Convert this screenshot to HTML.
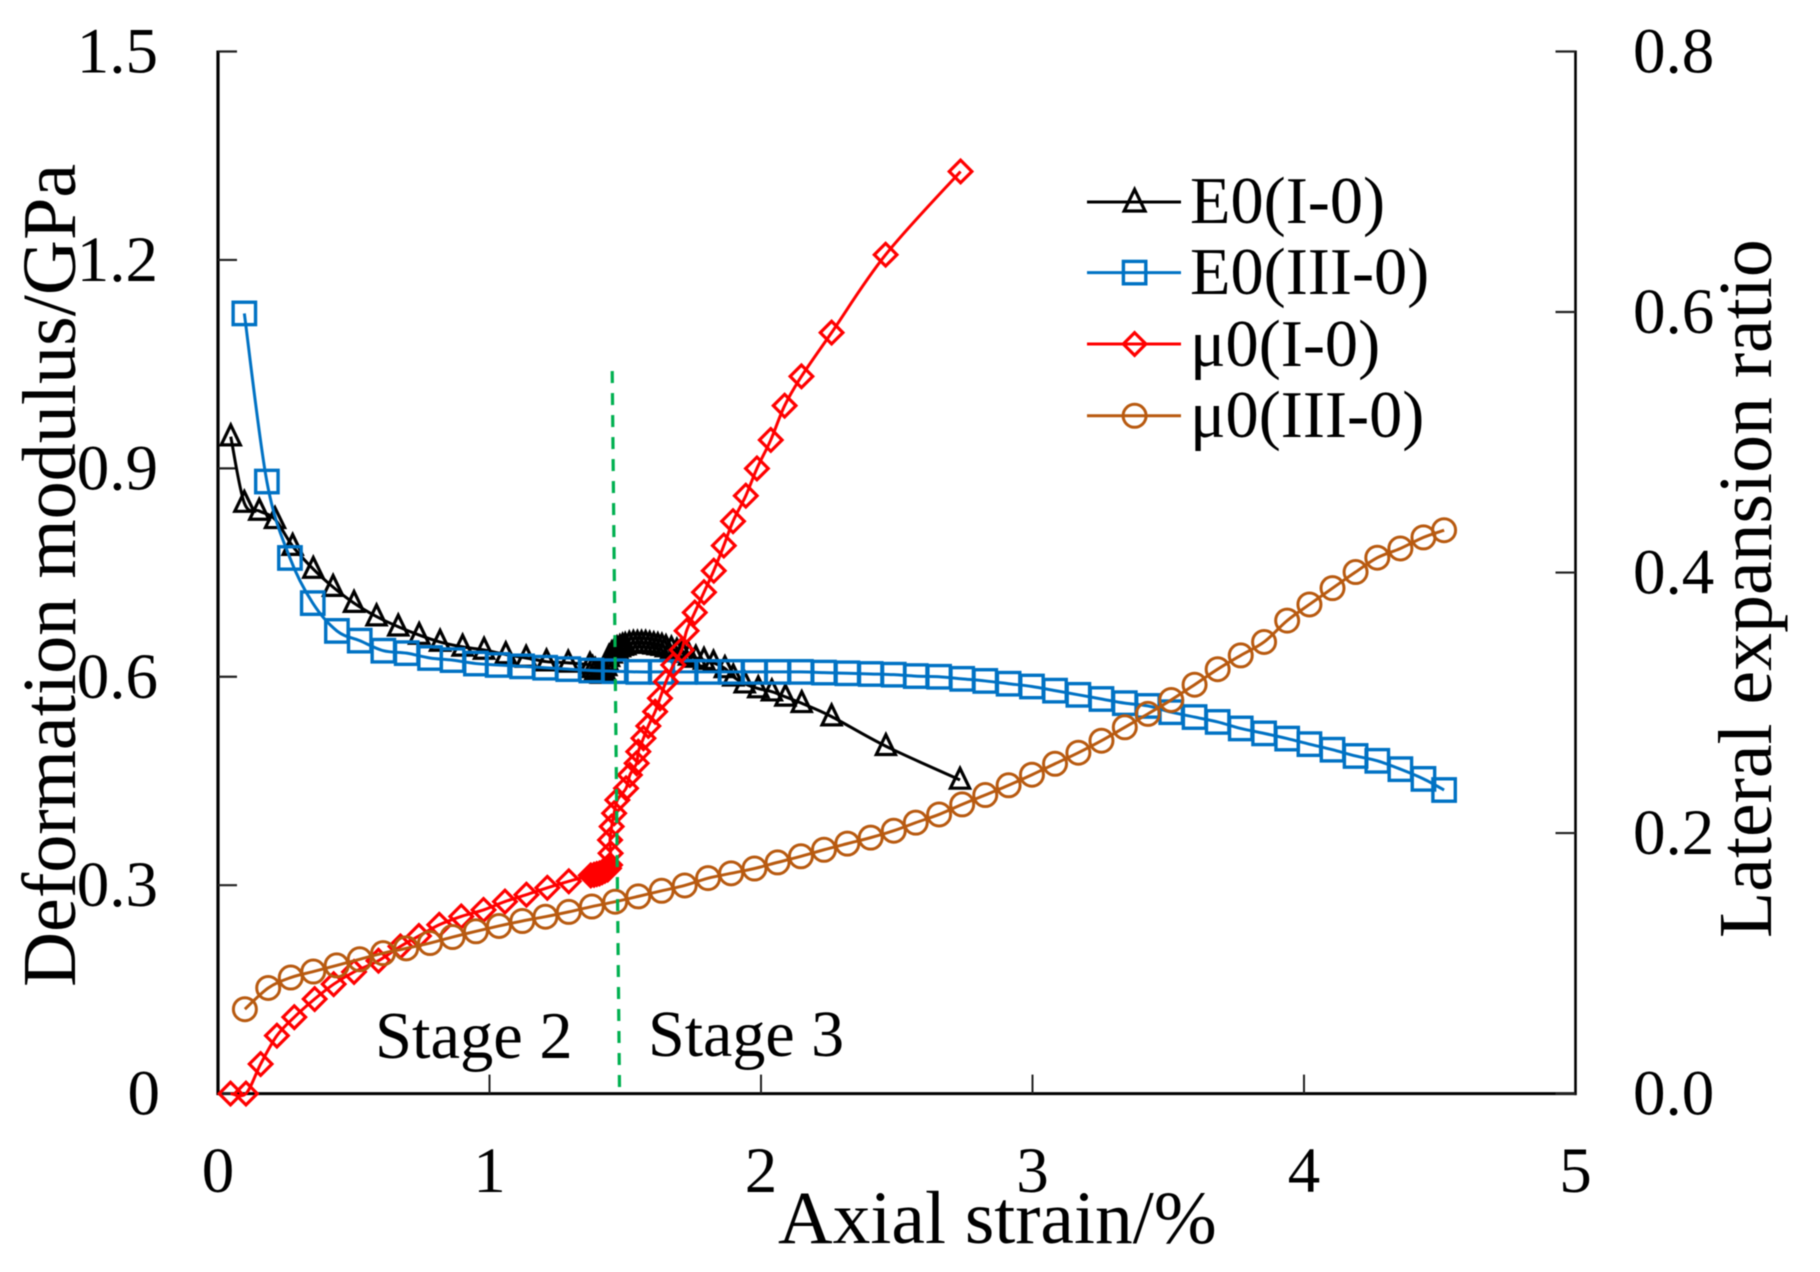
<!DOCTYPE html>
<html lang="en">
<head>
<meta charset="utf-8">
<title>Deformation modulus and lateral expansion ratio vs axial strain</title>
<style>
html,body{margin:0;padding:0;background:#fff;width:1820px;height:1272px;overflow:hidden}
svg{display:block;filter:blur(0.5px)}
text{font-family:"Liberation Serif","Times New Roman",serif;fill:#000}
</style>
</head>
<body>
<svg id="chart" xmlns="http://www.w3.org/2000/svg" width="1820" height="1272" viewBox="0 0 1820 1272">
  <rect x="0" y="0" width="1820" height="1272" fill="#ffffff"/>
  <g id="axes"></g>
  <g id="series"></g>
  <g id="stage-divider-layer"></g>
  <text x="778" y="1243" font-size="75.6">Axial strain/%</text>
  <text transform="translate(75 987) rotate(-90)" font-size="76.2">Deformation modulus/GPa</text>
  <text transform="translate(1771 938) rotate(-90)" font-size="75.8">Lateral expansion ratio</text>
  <text x="375" y="1058" font-size="66.5">Stage 2</text>
  <text x="648" y="1056" font-size="66">Stage 3</text>
  <g id="legend"></g>
</svg>
<script>
// ---------- chart data ----------
const xTicks = [0, 1, 2, 3, 4, 5];
const leftTicks = [0, 0.3, 0.6, 0.9, 1.2, 1.5];
const leftTickLabels = ['0', '0.3', '0.6', '0.9', '1.2', '1.5'];
const rightTicks = [0, 0.2, 0.4, 0.6, 0.8];
const rightTickLabels = ['0.0', '0.2', '0.4', '0.6', '0.8'];
const stageBoundaryStrain = [1.452, 1.479];
const stageBoundaryModulus = [1.04, 0];

const e0I0Strain = [0.047,0.097,0.152,0.21,0.275,0.351,0.424,0.501,0.584,0.664,0.741,0.818,0.901,0.98,1.06,1.135,1.21,1.29,1.37,1.38,1.39,1.40,1.41,1.415,1.42,1.425,1.43,1.435,1.44,1.45,1.46,1.47,1.48,1.49,1.50,1.515,1.53,1.545,1.56,1.575,1.59,1.605,1.62,1.635,1.65,1.67,1.69,1.71,1.735,1.76,1.79,1.825,1.867,1.898,1.94,1.99,2.04,2.09,2.15,2.26,2.46,2.733];
const e0I0Modulus = [0.9456,0.85,0.8386,0.8266,0.788,0.755,0.729,0.706,0.6866,0.672,0.66,0.65,0.643,0.6385,0.632,0.627,0.6217,0.62,0.617,0.612,0.609,0.606,0.604,0.604,0.605,0.608,0.615,0.622,0.628,0.633,0.637,0.64,0.642,0.644,0.645,0.647,0.648,0.648,0.648,0.648,0.647,0.646,0.645,0.644,0.642,0.64,0.637,0.634,0.63,0.627,0.624,0.62,0.612,0.60,0.59,0.583,0.5785,0.571,0.5618,0.5426,0.50,0.4515];

const e0III0Strain = [0.097,0.18,0.265,0.349,0.438,0.522,0.609,0.695,0.781,0.864,0.95,1.03,1.12,1.205,1.29,1.375,1.46,1.548,1.634,1.719,1.805,1.89,1.976,2.061,2.147,2.232,2.318,2.404,2.489,2.57,2.656,2.741,2.826,2.912,2.998,3.083,3.169,3.254,3.34,3.425,3.511,3.597,3.682,3.767,3.853,3.938,4.02,4.105,4.19,4.27,4.355,4.44,4.516];
const e0III0Modulus = [1.123,0.881,0.771,0.706,0.666,0.652,0.6375,0.634,0.627,0.624,0.619,0.617,0.615,0.613,0.611,0.609,0.608,0.607,0.607,0.607,0.607,0.607,0.607,0.607,0.607,0.606,0.605,0.604,0.603,0.601,0.6,0.597,0.594,0.59,0.586,0.58,0.574,0.568,0.562,0.558,0.549,0.542,0.535,0.5256,0.5185,0.511,0.503,0.495,0.486,0.479,0.467,0.453,0.437];

const muI0Strain = [0.046,0.103,0.157,0.217,0.281,0.356,0.426,0.501,0.591,0.672,0.74,0.815,0.896,0.978,1.057,1.136,1.213,1.292,1.373,1.385,1.395,1.405,1.415,1.425,1.435,1.44,1.444,1.446,1.444,1.45,1.459,1.471,1.503,1.517,1.542,1.548,1.567,1.585,1.61,1.628,1.65,1.677,1.708,1.726,1.756,1.79,1.826,1.863,1.897,1.944,1.985,2.036,2.087,2.149,2.26,2.459,2.735];
const muI0Ratio = [0,0,0.0227,0.0445,0.0587,0.0726,0.084,0.0934,0.102,0.113,0.121,0.1296,0.136,0.141,0.1474,0.1527,0.158,0.163,0.1675,0.168,0.1685,0.169,0.170,0.171,0.172,0.173,0.1755,0.1845,0.1947,0.205,0.2152,0.2254,0.2344,0.2446,0.2536,0.2625,0.2728,0.2822,0.2932,0.3035,0.3162,0.329,0.3406,0.3553,0.3693,0.3849,0.4014,0.4207,0.4394,0.459,0.4799,0.5018,0.5281,0.5506,0.5842,0.644,0.7079];

const muIII0Strain = [0.099,0.185,0.268,0.351,0.437,0.522,0.608,0.693,0.781,0.864,0.95,1.035,1.121,1.206,1.292,1.377,1.463,1.548,1.634,1.719,1.805,1.89,1.976,2.061,2.147,2.232,2.318,2.404,2.489,2.57,2.656,2.741,2.826,2.912,2.998,3.083,3.169,3.254,3.34,3.425,3.511,3.597,3.682,3.767,3.853,3.938,4.02,4.105,4.19,4.27,4.355,4.44,4.516];
const muIII0Ratio = [0.0648,0.0811,0.0891,0.0937,0.0984,0.1031,0.1078,0.1115,0.1156,0.1202,0.1246,0.1287,0.1325,0.1358,0.1395,0.1436,0.1473,0.1514,0.1557,0.1598,0.1654,0.1691,0.1728,0.1775,0.1822,0.1872,0.1919,0.1965,0.2018,0.208,0.2143,0.222,0.2292,0.2367,0.2448,0.2532,0.2617,0.2709,0.2812,0.2915,0.3022,0.3139,0.3258,0.3364,0.3467,0.3631,0.3755,0.388,0.4004,0.4114,0.4185,0.427,0.4325];

// ---------- plot geometry and axis functions ----------
const plot = { left: 218, right: 1575.5, top: 51.5, bottom: 1093.6 };
const xDomainMax = 5, leftDomainMax = 1.5, rightDomainMax = 0.8;
function xScale(v) { return plot.left + (plot.right - plot.left) * v / xDomainMax; }
function yLeft(v) { return plot.bottom - (plot.bottom - plot.top) * v / leftDomainMax; }
function yRight(v) { return plot.bottom - (plot.bottom - plot.top) * v / rightDomainMax; }

const NS = 'http://www.w3.org/2000/svg';
function make(tag, attrs, parent) {
  const el = document.createElementNS(NS, tag);
  for (const k in attrs) el.setAttribute(k, attrs[k]);
  parent.appendChild(el);
  return el;
}

// ---------- axes ----------
const axes = document.getElementById('axes');
const leftAxis = make('line', { x1: plot.left, y1: plot.top - 1, x2: plot.left, y2: plot.bottom + 1.5, stroke: '#000', 'stroke-width': 3.2 }, axes);


const rightAxis = make('line', { x1: plot.right, y1: plot.top - 1, x2: plot.right, y2: plot.bottom + 1.5, stroke: '#000', 'stroke-width': 2.6 }, axes);


const bottomAxis = make('line', { x1: plot.left, y1: plot.bottom, x2: plot.right + 1, y2: plot.bottom, stroke: '#000', 'stroke-width': 3 }, axes);



xTicks.forEach(function (t) {
  if (t !== 0 && t !== xDomainMax) {
    const tick = make('line', { x1: xScale(t), y1: plot.bottom, x2: xScale(t), y2: plot.bottom - 19, stroke: '#222', 'stroke-width': 2 }, axes);
    
    
  }
  const label = make('text', { x: xScale(t), y: 1192, 'font-size': 65, 'text-anchor': 'middle' }, axes);
  
  
  label.textContent = String(t);
});

leftTicks.forEach(function (t, i) {
  const tick = make('line', { x1: plot.left, y1: yLeft(t), x2: plot.left + 19, y2: yLeft(t), stroke: '#222', 'stroke-width': 2.2 }, axes);
  
  
  const label = make('text', { x: t === 0 ? 160 : 158, y: yLeft(t) + 21, 'font-size': 65, 'text-anchor': 'end' }, axes);
  
  
  label.textContent = leftTickLabels[i];
});

rightTicks.forEach(function (t, i) {
  const tick = make('line', { x1: plot.right, y1: yRight(t), x2: plot.right - 20, y2: yRight(t), stroke: '#222', 'stroke-width': 2.2 }, axes);
  
  
  const label = make('text', { x: 1633, y: yRight(t) + 21, 'font-size': 65 }, axes);
  
  
  label.textContent = rightTickLabels[i];
});

// ---------- markers ----------
function drawMarker(shape, cx, cy, color, parent, k) {
  let m;
  if (shape === 'triangle') {
    m = make('polygon', { points: cx + ',' + (cy - 10.5 * k) + ' ' + (cx + 8.7 * k) + ',' + (cy + 7.5 * k) + ' ' + (cx - 8.7 * k) + ',' + (cy + 7.5 * k), fill: 'none', stroke: color, 'stroke-width': 3.2 }, parent);
  } else if (shape === 'square') {
    m = make('rect', { x: cx - 11.2, y: cy - 11.2, width: 22.4, height: 22.4, fill: 'none', stroke: color, 'stroke-width': 3.4 }, parent);
  } else if (shape === 'diamond') {
    m = make('polygon', { points: cx + ',' + (cy - 11.3) + ' ' + (cx + 11.3) + ',' + cy + ' ' + cx + ',' + (cy + 11.3) + ' ' + (cx - 11.3) + ',' + cy, fill: 'none', stroke: color, 'stroke-width': 3.2 }, parent);
  } else {
    m = make('circle', { cx: cx, cy: cy, r: 11.5, fill: 'none', stroke: color, 'stroke-width': 3 }, parent);
  }
  return m;
}

// Excel-style smoothed line through the data points
function smoothPath(px, py) {
  let d = 'M' + px[0].toFixed(2) + ' ' + py[0].toFixed(2);
  for (let i = 0; i < px.length - 1; i++) {
    const a = Math.max(i - 1, 0), b = Math.min(i + 2, px.length - 1);
    const c1x = px[i] + (px[i + 1] - px[a]) / 6, c1y = py[i] + (py[i + 1] - py[a]) / 6;
    const c2x = px[i + 1] - (px[b] - px[i]) / 6, c2y = py[i + 1] - (py[b] - py[i]) / 6;
    d += ' C' + c1x.toFixed(2) + ' ' + c1y.toFixed(2) + ' ' + c2x.toFixed(2) + ' ' + c2y.toFixed(2) + ' ' + px[i + 1].toFixed(2) + ' ' + py[i + 1].toFixed(2);
  }
  return d;
}

function drawSeries(xs, ys, yFn, color, shape, name) {
  const root = document.getElementById('series');
  const g = make('g', {}, root);
  
  
  const n = Math.min(xs.length, ys.length);
  const px = [], py = [];
  for (let i = 0; i < n; i++) { px.push(xScale(xs[i])); py.push(yFn(ys[i])); }
  const line = make('path', { d: smoothPath(px, py), fill: 'none', stroke: color, 'stroke-width': 3, 'stroke-linejoin': 'round' }, g);
  
  
  for (let i = 0; i < n; i++) {
    const marker = drawMarker(shape, px[i], py[i], color, g, 1.1);
    
    
  }
}

const colorBlack = '#000000', colorBlue = '#0072c4', colorRed = '#ff0000', colorBrown = '#b85a10';
drawSeries(e0I0Strain, e0I0Modulus, yLeft, colorBlack, 'triangle', 'e0-i-0-series');
drawSeries(e0III0Strain, e0III0Modulus, yLeft, colorBlue, 'square', 'e0-iii-0-series');
drawSeries(muI0Strain, muI0Ratio, yRight, colorRed, 'diamond', 'mu0-i-0-series');
drawSeries(muIII0Strain, muIII0Ratio, yRight, colorBrown, 'circle', 'mu0-iii-0-series');

// ---------- stage boundary ----------
const divider = make('line', {
  x1: xScale(stageBoundaryStrain[0]), y1: yLeft(stageBoundaryModulus[0]),
  x2: xScale(stageBoundaryStrain[1]), y2: yLeft(stageBoundaryModulus[1]),
  stroke: '#00b050', 'stroke-width': 3.2, 'stroke-dasharray': '12 10'
}, document.getElementById('stage-divider-layer'));



// ---------- legend ----------
const legendLabels = ['E0(I-0)', 'E0(III-0)', 'μ0(I-0)', 'μ0(III-0)'];
const legendColors = [colorBlack, colorBlue, colorRed, colorBrown];
const legendShapes = ['triangle', 'square', 'diamond', 'circle'];
const legendRoot = document.getElementById('legend');
const legendLineY = [202, 272.6, 344, 415.8];
const legendTextY = [224, 295, 367, 438];
legendLabels.forEach(function (txt, i) {
  const entry = make('g', {}, legendRoot);
  
  
  const swatch = make('line', { x1: 1087, y1: legendLineY[i], x2: 1181, y2: legendLineY[i], stroke: legendColors[i], 'stroke-width': 3 }, entry);
  
  
  const marker = drawMarker(legendShapes[i], 1134.6, legendLineY[i], legendColors[i], entry, 1.2);
  
  
  const label = make('text', { x: 1190, y: legendTextY[i] - 1, 'font-size': 66.3 }, entry);
  
  
  label.textContent = txt;
});
</script>
</body>
</html>
